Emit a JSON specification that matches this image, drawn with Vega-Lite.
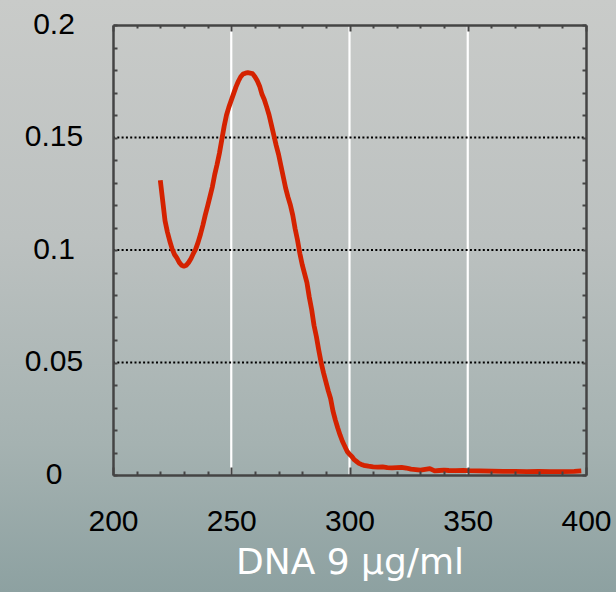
{
  "$schema": "https://vega.github.io/schema/vega-lite/v6.json",
  "width": 473,
  "height": 450,
  "autosize": {"type": "none"},
  "padding": {"left": 113, "top": 25, "right": 30, "bottom": 117},
  "background": "#aab5b4",
  "config": {"view": {"stroke": null}},
  "datasets": {
    "spectrum": [
      {"wl": 220, "abs": 0.131}, {"wl": 221, "abs": 0.122}, {"wl": 222, "abs": 0.113}, {"wl": 223, "abs": 0.108},
      {"wl": 224, "abs": 0.104}, {"wl": 225, "abs": 0.1005}, {"wl": 226, "abs": 0.098}, {"wl": 227, "abs": 0.0965},
      {"wl": 228, "abs": 0.0945}, {"wl": 229, "abs": 0.0932}, {"wl": 230, "abs": 0.0928}, {"wl": 231, "abs": 0.0932},
      {"wl": 232, "abs": 0.0945}, {"wl": 233, "abs": 0.0962}, {"wl": 234, "abs": 0.0985}, {"wl": 235, "abs": 0.1005},
      {"wl": 236, "abs": 0.1035}, {"wl": 237, "abs": 0.107}, {"wl": 238, "abs": 0.111}, {"wl": 239, "abs": 0.1155},
      {"wl": 240, "abs": 0.1195}, {"wl": 241, "abs": 0.1237}, {"wl": 242, "abs": 0.128}, {"wl": 243, "abs": 0.1335},
      {"wl": 244, "abs": 0.138}, {"wl": 245, "abs": 0.143}, {"wl": 246, "abs": 0.149}, {"wl": 247, "abs": 0.155},
      {"wl": 248, "abs": 0.16}, {"wl": 249, "abs": 0.1635}, {"wl": 250, "abs": 0.1665}, {"wl": 251, "abs": 0.1695},
      {"wl": 252, "abs": 0.1725}, {"wl": 253, "abs": 0.175}, {"wl": 254, "abs": 0.177}, {"wl": 255, "abs": 0.1782},
      {"wl": 256, "abs": 0.1786}, {"wl": 257, "abs": 0.1788}, {"wl": 258, "abs": 0.1786}, {"wl": 259, "abs": 0.1784},
      {"wl": 260, "abs": 0.177}, {"wl": 261, "abs": 0.1752}, {"wl": 262, "abs": 0.1728}, {"wl": 263, "abs": 0.1692},
      {"wl": 264, "abs": 0.1668}, {"wl": 265, "abs": 0.1635}, {"wl": 266, "abs": 0.16}, {"wl": 267, "abs": 0.1555},
      {"wl": 268, "abs": 0.151}, {"wl": 269, "abs": 0.1465}, {"wl": 270, "abs": 0.1425}, {"wl": 271, "abs": 0.1375},
      {"wl": 272, "abs": 0.1325}, {"wl": 273, "abs": 0.1275}, {"wl": 274, "abs": 0.1235}, {"wl": 275, "abs": 0.12},
      {"wl": 276, "abs": 0.1155}, {"wl": 277, "abs": 0.1095}, {"wl": 278, "abs": 0.1045}, {"wl": 279, "abs": 0.0985},
      {"wl": 280, "abs": 0.0935}, {"wl": 281, "abs": 0.0895}, {"wl": 282, "abs": 0.0855}, {"wl": 283, "abs": 0.079},
      {"wl": 284, "abs": 0.0735}, {"wl": 285, "abs": 0.0665}, {"wl": 286, "abs": 0.0615}, {"wl": 287, "abs": 0.0555},
      {"wl": 288, "abs": 0.05}, {"wl": 289, "abs": 0.0455}, {"wl": 290, "abs": 0.0415}, {"wl": 291, "abs": 0.0375},
      {"wl": 292, "abs": 0.034}, {"wl": 293, "abs": 0.0285}, {"wl": 294, "abs": 0.0245}, {"wl": 295, "abs": 0.021},
      {"wl": 296, "abs": 0.0178}, {"wl": 297, "abs": 0.015}, {"wl": 298, "abs": 0.0128}, {"wl": 299, "abs": 0.0105},
      {"wl": 300, "abs": 0.0092}, {"wl": 301, "abs": 0.0082}, {"wl": 302, "abs": 0.0068}, {"wl": 303, "abs": 0.006},
      {"wl": 304, "abs": 0.0052}, {"wl": 305, "abs": 0.0047}, {"wl": 306, "abs": 0.0043}, {"wl": 308, "abs": 0.0039},
      {"wl": 310, "abs": 0.0036}, {"wl": 312, "abs": 0.0035}, {"wl": 314, "abs": 0.0036}, {"wl": 316, "abs": 0.0033},
      {"wl": 318, "abs": 0.0032}, {"wl": 320, "abs": 0.0033}, {"wl": 322, "abs": 0.0034}, {"wl": 324, "abs": 0.0031},
      {"wl": 326, "abs": 0.0026}, {"wl": 328, "abs": 0.0024}, {"wl": 330, "abs": 0.0022}, {"wl": 332, "abs": 0.0025},
      {"wl": 334, "abs": 0.0028}, {"wl": 336, "abs": 0.0018}, {"wl": 338, "abs": 0.002}, {"wl": 340, "abs": 0.0022},
      {"wl": 342, "abs": 0.002}, {"wl": 345, "abs": 0.0019}, {"wl": 348, "abs": 0.0021}, {"wl": 350, "abs": 0.0019},
      {"wl": 355, "abs": 0.0018}, {"wl": 360, "abs": 0.0017}, {"wl": 365, "abs": 0.0016}, {"wl": 370, "abs": 0.0016},
      {"wl": 375, "abs": 0.0015}, {"wl": 380, "abs": 0.0016}, {"wl": 385, "abs": 0.0015}, {"wl": 390, "abs": 0.0015},
      {"wl": 395, "abs": 0.0016}, {"wl": 398, "abs": 0.0018}
    ],
    "vgrid": [{"wl": 250}, {"wl": 300}, {"wl": 350}],
    "hgrid": [{"abs": 0.05}, {"abs": 0.1}, {"abs": 0.15}]
  },
  "resolve": {"axis": {"x": "independent", "y": "independent"}},
  "layer": [
    {
      "data": {"values": [{}]},
      "mark": {
        "type": "rect",
        "stroke": null,
        "fill": {
          "gradient": "linear", "x1": 0, "y1": 0, "x2": 0, "y2": 1,
          "stops": [
            {"offset": 0, "color": "#c9cbc9"},
            {"offset": 0.4, "color": "#bcc1c0"},
            {"offset": 0.75, "color": "#a5b2b1"},
            {"offset": 1, "color": "#8da1a1"}
          ]
        }
      },
      "encoding": {
        "x": {
          "datum": 152.22, "type": "quantitative",
          "scale": {"domain": [200, 400], "nice": false, "zero": false},
          "axis": {
            "orient": "top", "title": null, "labels": false, "grid": false,
            "values": [200,210,220,230,240,250,260,270,280,290,300,310,320,330,340,350,360,370,380,390,400],
            "ticks": true,
            "tickSize": {"condition": {"test": "datum.value % 50 === 0", "value": -6}, "value": -3},
            "tickColor": "#444444", "tickWidth": 2,
            "domain": true, "domainColor": "#444444", "domainWidth": 2.5, "zindex": 1
          }
        },
        "x2": {"datum": 412.68},
        "y": {
          "datum": 0.21111, "type": "quantitative",
          "scale": {"domain": [0, 0.2], "nice": false, "zero": false},
          "axis": {
            "orient": "right", "title": null, "labels": false, "grid": false,
            "values": [0,0.01,0.02,0.03,0.04,0.05,0.06,0.07,0.08,0.09,0.1,0.11,0.12,0.13,0.14,0.15,0.16,0.17,0.18,0.19,0.2],
            "ticks": true, "tickSize": -4, "tickColor": "#444444", "tickWidth": 2,
            "domain": true, "domainColor": "#444444", "domainWidth": 2.5, "zindex": 1
          }
        },
        "y2": {"datum": -0.052}
      }
    },
    {
      "data": {"name": "vgrid"},
      "mark": {"type": "rule", "color": "white", "strokeWidth": 2.2},
      "encoding": {
        "x": {
          "field": "wl", "type": "quantitative",
          "scale": {"domain": [200, 400], "nice": false, "zero": false},
          "axis": {
            "orient": "bottom", "title": null, "labels": false, "grid": false,
            "values": [200,210,220,230,240,250,260,270,280,290,300,310,320,330,340,350,360,370,380,390,400],
            "ticks": true,
            "tickSize": {"condition": {"test": "datum.value % 50 === 0", "value": -8}, "value": -4},
            "tickColor": "#444444", "tickWidth": 2,
            "domain": false, "zindex": 1
          }
        },
        "y": {
          "datum": 0, "type": "quantitative",
          "scale": {"domain": [0, 0.2], "nice": false, "zero": false},
          "axis": {
            "orient": "left", "title": null, "labels": false, "grid": false,
            "values": [0,0.01,0.02,0.03,0.04,0.05,0.06,0.07,0.08,0.09,0.1,0.11,0.12,0.13,0.14,0.15,0.16,0.17,0.18,0.19,0.2],
            "ticks": true, "tickSize": -4, "tickColor": "#444444", "tickWidth": 2,
            "domain": false, "zindex": 1
          }
        },
        "y2": {"datum": 0.2}
      }
    },
    {
      "data": {"name": "hgrid"},
      "mark": {"type": "rule", "color": "black", "strokeWidth": 2, "strokeDash": [2, 2.3]},
      "encoding": {
        "x": {
          "datum": 200, "type": "quantitative",
          "scale": {"domain": [200, 400], "nice": false, "zero": false},
          "axis": null
        },
        "x2": {"datum": 400},
        "y": {
          "field": "abs", "type": "quantitative",
          "scale": {"domain": [0, 0.2], "nice": false, "zero": false},
          "axis": null
        }
      }
    },
    {
      "data": {"name": "spectrum"},
      "mark": {"type": "line", "color": "#d42200", "strokeWidth": 4.8, "strokeJoin": "round"},
      "encoding": {
        "x": {
          "field": "wl", "type": "quantitative",
          "scale": {"domain": [200, 400], "nice": false, "zero": false},
          "axis": {
            "orient": "bottom", "title": "DNA 9 µg/ml",
            "values": [200, 250, 300, 350, 400],
            "ticks": false, "grid": false,
            "labels": true, "labelFlush": false, "labelOverlap": false,
            "labelFont": "Liberation Sans", "labelFontSize": 30, "labelColor": "black",
            "labelBaseline": "top", "labelPadding": 31,
            "domain": true, "domainColor": "#444444", "domainWidth": 2.5,
            "titleFont": "DejaVu Sans", "titleFontSize": 36, "titleFontWeight": "normal",
            "titleColor": "white", "titleBaseline": "alphabetic", "titleY": 98,
            "zindex": 1
          }
        },
        "y": {
          "field": "abs", "type": "quantitative",
          "scale": {"domain": [0, 0.2], "nice": false, "zero": false},
          "axis": {
            "orient": "left", "title": null,
            "values": [0, 0.05, 0.1, 0.15, 0.2],
            "format": "~g",
            "ticks": false, "grid": false,
            "labels": true, "labelFlush": false, "labelOverlap": false,
            "labelFont": "Liberation Sans", "labelFontSize": 30, "labelColor": "black",
            "labelAlign": "center", "labelBaseline": "middle", "labelPadding": 59.5, "labelOffset": -1,
            "domain": true, "domainColor": "#444444", "domainWidth": 2.5,
            "zindex": 1
          }
        }
      }
    }
  ]
}
